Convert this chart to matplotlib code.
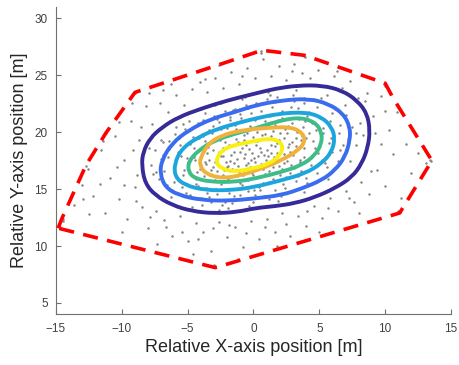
#! /usr/bin/env python
# -*- coding: utf-8 -*-

"""
scatter of relative positions with density contours and hull
"""

import matplotlib
matplotlib.use('Agg')
import matplotlib.pyplot as plt
from matplotlib.path import Path
from matplotlib.patches import PathPatch

plt.rcParams['font.family'] = ['Liberation Sans', 'DejaVu Sans']

# scatter points [m]
pts_x = [
    # core
    -3.6, -3.1, -2.8, -2.5, -2.2, -2.0, -1.7, -1.5, -1.3, -1.1, -0.9, -0.7, -0.5, -0.3, -0.1,
    0.1, 0.3, 0.5, 0.7, 0.9, 1.1, 1.3, 1.5, 1.7, 1.9, 2.1, 2.4, 2.7, 3.0, 3.3, 3.6,
    -3.9, -3.3, -2.6, -1.9, -1.2, -0.6, 0.0, 0.6, 1.2, 1.8, 2.3, 2.9, 3.8, -3.4, -2.9,
    -2.3, -1.6, -0.8, -0.2, 0.4, 0.8, 1.4, 2.0, 2.6, 3.2, -1.0, 0.2, -2.1, 1.6, -4.3,
    4.2, -3.7, -0.4, 0.9, 2.2, -1.4, 3.5, -2.7, 1.0,
    -3.45, -2.95, -2.35, -1.85, -1.25, -0.75, -0.15, 0.35, 0.85, 1.35, 1.95, 2.55, 3.15,
    3.75, -3.15, -2.45, -1.65, -0.95, -0.35, 0.45, 1.05, 1.65, 2.35, 2.85, -4.05, -3.75,
    -1.05, 0.15, 1.45, 3.45, -2.05, 0.65, -1.45, 2.05, -0.55, 1.75, -2.65, 0.05, -1.75,
    2.65, -3.05, 1.25, -0.25, 3.95, -4.55, 4.45, -2.25, 0.95, -1.15, 2.75,
    -5.35, -4.85, -4.35, -3.85, -3.25, -2.85, -2.15, -1.95, -1.35, -0.85, -0.45, 0.25,
    0.75, 1.45, 1.85, 2.45, 2.95, 3.55, 4.05, 4.65, 5.25, 5.75, -5.05, -4.45, -3.55,
    -2.55, -1.75, -0.65, 0.35, 1.15, 2.15, 3.05, 3.85, 4.75, -4.15, -3.05, -1.85, -0.95,
    0.55, 1.55, 2.55, 3.65, -2.35, -1.25, -0.05, 1.35, 2.35, 3.25, -3.65, -0.75,
    # middle
    -7.8, -7.5, -7.2, -7.0, -6.8, -6.5, -6.2, -6.0, -5.8, -5.6, -5.4, -5.2, -5.0, -4.8,
    -4.6, -4.4, -4.2, -4.0, -3.8, -3.6, -3.4, -3.2, -3.0, -2.8, -2.6, -2.4, -2.2, -2.0,
    -1.8, -1.6, -1.4, -1.2, -1.0, -0.8, -0.6, -0.4, -0.2, 0.0, 0.2, 0.4, 0.6, 0.8, 1.0,
    1.2, 1.4, 1.6, 1.8, 2.0, 2.2, 2.4, 2.6, 2.8, 3.0, 3.2, 3.4, 3.6, 3.8, 4.0, 4.2, 4.4,
    4.6, 4.8, 5.0, 5.2, 5.4, 5.6, 5.8, 6.0, 6.2, 6.4, 6.6, 6.8, 7.0, 7.2, 7.5, 7.8, 8.1,
    -6.6, -5.9, -4.9, -3.9, -2.9, -1.9, -0.9, 0.1, 1.1, 2.1, 3.1, 4.1, 5.1, 6.1, 7.1,
    -7.4, -6.4, -5.3, -4.5, -4.1, 4.5, 5.3, 5.9, 4.9, -5.5, -6.9, 6.5, 3.9, -3.5, 2.5,
    -1.5, 1.5, -2.5, 0.5,
    -7.65, -7.05, -6.45, -6.05, -5.65, -5.15, -4.75, -4.25, -3.65, -3.35, -2.75, -2.15,
    -1.55, -1.05, -0.45, 0.05, 0.55, 1.15, 1.65, 2.25, 2.85, 3.35, 3.85, 4.35, 4.85, 5.45,
    5.95, 6.55, 7.25, 7.75, -6.85, -5.35, -3.95, -2.45, -0.65, 1.25, 3.25, 5.55, 6.95,
    -6.25, -4.65, -2.65, -0.35, 1.85, 3.85, 5.65, 7.35, -7.95, 8.35, -5.75,
    # outer
    -14.5, -13.6, -12.6, -12.2, -11.6, -11.3, -10.9, -10.5, -10.2, -9.8, -9.6, -9.3, -9.0,
    -8.7, -8.5, -8.2, -8.0, -7.7, -7.4, -7.1, -6.8, -6.5, -6.2, -5.9, -5.6, -5.3, -5.0,
    -4.7, -4.4, -4.1, -3.8, -3.5, -3.2, -2.9, -2.6, -2.3, -2.0, -1.7, -1.4, -1.1, -0.8,
    -0.5, -0.2, 0.1, 0.4, 0.7, 1.0, 1.3, 1.6, 1.9, 2.2, 2.5, 2.8, 3.1, 3.4, 3.7, 4.0,
    4.3, 4.6, 4.9, 5.2, 5.5, 5.8, 6.1, 6.4, 6.7, 7.0, 7.3, 7.6, 7.9, 8.2, 8.5, 8.8, 9.1,
    9.4, 9.7, 10.0, 10.3, 10.6, 10.9, 11.2, 11.6, 12.0, 12.5, 13.1, -13.0, -11.4, -10.2,
    -9.2, -7.9, -6.3, -12.5, -10.0, -7.3, -4.6, -3.0, 0.6, 3.9, 10.0, 13.4, 11.0, -14.7,
    8.0, 5.0, 1.8, -1.2,
    -9.85, -9.15, -8.85, -8.55, -8.95, -7.85, -6.65, -5.45, -4.25, -3.05, -1.85, -0.55,
    0.85, 2.45, 4.05, 5.65, 7.25, 8.95, 9.65, 9.25, 8.65, 6.35, 2.95, -0.85, -3.65, -6.85,
    -10.35, -11.65, -12.95, 9.95,
    # hull corners
    -14.5, -12.7, -11.2, -9.0, -2.6, 0.6, 3.8, 9.9, 13.5, 11.1, -2.9,
]
pts_y = [
    # core
    17.2, 18.4, 16.6, 17.9, 19.1, 16.9, 18.0, 17.3, 19.4, 16.5, 18.6, 17.7, 19.9, 16.9, 18.2,
    17.4, 19.2, 18.6, 16.8, 19.8, 17.9, 18.9, 20.1, 17.6, 19.3, 18.4, 20.3, 19.0, 18.0, 20.0, 19.3,
    18.0, 16.2, 19.6, 15.9, 17.0, 18.9, 19.6, 17.2, 16.6, 18.2, 17.3, 20.8, 18.6, 17.6, 15.8,
    18.6, 19.8, 16.2, 17.6, 20.4, 18.0, 17.2, 19.9, 18.7, 19.5, 18.3, 18.9, 17.4, 18.8, 16.5,
    19.9, 19.2, 15.8, 21.0, 16.8, 20.6, 17.6, 17.1, 19.4,
    18.7, 17.35, 16.25, 18.85, 17.65, 19.35, 16.45, 17.95, 16.35, 19.65, 17.05, 19.95, 18.35,
    20.45, 19.95, 15.45, 16.75, 20.15, 18.55, 16.05, 18.45, 20.65, 18.05, 17.15, 17.15, 16.15,
    15.55, 21.05, 15.85, 21.15, 20.35, 19.75, 18.25, 16.25, 17.15, 19.05, 18.25, 17.75, 17.45,
    20.55, 16.95, 21.45, 20.55, 19.45, 17.85, 20.85, 16.65, 17.55, 19.15, 18.25,
    16.25, 18.95, 15.45, 19.65, 16.65, 15.05, 19.85, 17.05, 20.25, 15.35, 17.25, 20.05,
    15.55, 16.95, 21.05, 15.95, 19.15, 17.35, 21.45, 18.65, 20.35, 19.05, 17.75, 17.55, 18.15,
    19.35, 21.05, 18.05, 16.75, 20.75, 21.25, 16.85, 17.85, 20.15, 19.45, 20.55, 14.65, 21.25,
    18.25, 17.85, 17.45, 19.65, 17.95, 16.15, 16.25, 18.15, 19.45, 18.75, 17.35, 19.75,
    # middle
    17.1, 18.4, 15.9, 19.3, 16.6, 17.8, 14.9, 19.8, 16.1, 18.9, 15.2, 20.3, 17.4, 14.5,
    19.6, 15.9, 20.8, 14.2, 21.1, 15.1, 20.2, 13.9, 21.4, 14.6, 20.9, 13.6, 21.9, 14.9,
    21.3, 13.8, 22.0, 15.0, 21.6, 14.1, 22.4, 14.8, 21.7, 13.9, 22.6, 15.2, 21.9, 14.4, 22.9,
    15.6, 22.2, 14.9, 23.1, 15.8, 21.9, 15.1, 22.8, 16.4, 23.3, 15.7, 22.1, 16.6, 23.0, 16.0, 21.8, 17.1,
    22.9, 16.4, 21.4, 17.6, 22.6, 16.9, 21.0, 18.3, 22.0, 17.5, 20.6, 18.9, 21.5, 19.4, 20.5, 19.9, 20.8,
    15.4, 20.5, 21.0, 13.6, 22.4, 13.3, 22.9, 14.5, 23.5, 14.4, 22.7, 15.5, 23.0, 16.8, 18.4,
    16.5, 19.2, 16.7, 18.6, 16.8, 19.2, 19.9, 19.5, 18.2, 17.9, 18.0, 19.9, 21.0, 14.7, 16.1,
    14.4, 21.5, 20.3, 14.9,
    16.35, 17.65, 18.55, 15.65, 19.45, 14.65, 20.25, 15.25, 21.65, 14.35, 21.15, 13.85,
    21.95, 14.45, 22.15, 14.95, 22.45, 14.15, 22.65, 15.45, 22.25, 16.15, 22.55, 16.75, 22.25, 17.25,
    21.65, 18.45, 20.15, 18.85, 19.15, 20.75, 22.05, 22.55, 23.05, 23.25, 23.75, 23.25, 22.35,
    14.35, 13.45, 13.15, 13.55, 13.95, 14.75, 15.85, 17.45, 18.65, 19.75, 18.25,
    # outer
    12.2, 13.6, 16.8, 14.4, 18.4, 12.9, 16.0, 19.7, 14.1, 17.6, 12.4, 21.0, 15.2,
    19.3, 13.4, 22.3, 11.6, 20.7, 13.1, 22.6, 12.3, 21.8, 10.9, 23.3, 12.6, 22.4, 10.4,
    23.8, 12.0, 24.4, 11.2, 23.5, 9.6, 24.8, 12.1, 23.9, 10.8, 25.3, 11.7, 24.2, 9.9,
    25.6, 12.2, 24.8, 10.6, 26.4, 12.4, 24.9, 11.2, 25.8, 12.9, 24.6, 10.9, 26.0, 12.6, 25.2, 11.8,
    24.8, 13.5, 25.5, 12.5, 24.1, 14.2, 24.9, 13.1, 23.9, 14.8, 24.5, 13.9, 23.0, 15.6, 22.7, 14.6, 21.4,
    16.7, 23.2, 15.3, 20.2, 18.1, 21.8, 14.2, 19.0, 16.4, 18.2, 17.3, 15.4, 19.2, 20.9,
    22.6, 23.4, 24.2, 12.8, 11.2, 10.2, 9.3, 8.3, 27.0, 26.6, 24.1, 17.6, 13.1, 11.7,
    12.9, 11.2, 10.0, 8.9,
    15.35, 18.45, 16.25, 20.45, 13.95, 12.55, 11.65, 11.25, 10.65, 11.55, 11.85, 11.15,
    11.65, 11.95, 13.05, 13.35, 14.25, 16.55, 18.95, 19.95, 23.45, 25.35, 25.35, 24.95, 24.65, 23.75,
    16.95, 15.45, 14.15, 21.85,
    # hull corners
    12.4, 17.0, 19.9, 23.4, 25.9, 27.1, 26.7, 24.2, 17.5, 13.0, 8.2,
]

# boundary polygon (dashed red)
hull_x = [-14.84, -14.54, -12.72, -11.2, -9.0, -2.54, 0.65, 3.9, 10.0, 10.6, 13.55, 11.1, -2.9, -14.84]
hull_y = [11.57, 12.45, 17.1, 19.95, 23.5, 25.96, 27.2, 26.75, 24.3, 23.0, 17.5, 12.9, 8.1, 11.57]

# density contours, outer to inner (closed outlines)
c1_x = [-8.49, -8.39, -7.86, -6.95, -5.73, -3.91, -1.94, -0.42, 0.49, 1.63, 3.38, 5.20, 6.72,
        7.86, 8.62, 8.85, 8.69, 8.24, 7.48, 6.19, 4.67, 3.15, 1.63, 0.11, -1.18, -2.92,
        -4.67, -6.19, -7.48, -8.24]
c1_y = [17.10, 18.24, 19.47, 20.43, 21.31, 22.10, 22.80, 23.24, 23.50, 23.82, 24.11, 24.11, 23.67,
        22.80, 21.66, 20.17, 18.68, 17.27, 16.05, 15.08, 14.29, 13.76, 13.50, 13.33, 13.00, 12.86,
        13.06, 13.59, 14.47, 15.52]
c2_x = [-7.10, -6.97, -6.21, -4.95, -3.17, -1.40, 0.11, 2.14, 4.16, 5.68, 6.82, 7.33, 7.33,
        6.95, 6.19, 5.18, 3.66, 2.14, 0.11, -1.91, -3.93, -5.71, -6.72]
c2_y = [16.37, 17.54, 19.00, 20.17, 21.19, 21.77, 22.36, 22.80, 22.95, 22.51, 21.63, 20.46, 19.29,
        17.82, 16.66, 15.78, 15.05, 14.47, 14.18, 13.97, 14.03, 14.47, 15.19]
c3_x = [-6.01, -5.45, -4.19, -2.67, -0.90, 0.11, 1.88, 3.91, 5.18, 5.94, 6.19, 5.94, 5.18,
        3.91, 2.14, 0.11, -1.66, -3.68, -5.20, -5.96]
c3_y = [17.25, 18.56, 19.58, 20.32, 20.90, 21.19, 21.63, 21.77, 21.33, 20.46, 19.44, 18.26, 17.25,
        16.37, 15.78, 15.19, 14.90, 14.90, 15.34, 16.07]
c4_x = [-4.95, -4.19, -2.92, -1.40, 0.11, 1.63, 3.40, 4.67, 5.18, 5.18, 4.67, 3.66, 2.14,
        0.11, -1.40, -3.17, -4.44, -4.95]
c4_y = [17.39, 18.41, 19.29, 19.88, 20.32, 20.90, 21.33, 20.90, 20.02, 19.00, 17.97, 17.10, 16.51,
        15.93, 15.63, 15.63, 15.93, 16.51]
c5_x = [-4.06, -3.43, -2.41, -0.90, 1.12, 2.90, 3.78, 3.91, 3.40, 2.14, 0.62, -0.90, -2.41,
        -3.68, -4.06]
c5_y = [17.68, 19.00, 19.73, 20.17, 20.40, 20.46, 19.88, 19.14, 18.41, 17.54, 16.81, 16.22, 15.93,
        16.37, 17.10]
c6_x = [-2.79, -2.41, -1.53, -0.27, 1.00, 1.88, 2.26, 2.01, 1.25, -0.02, -1.53, -2.41, -2.79]
c6_y = [17.68, 18.41, 18.85, 19.14, 19.44, 19.29, 18.70, 17.97, 17.25, 16.81, 16.51, 16.81, 17.25]
contour_colors = ['#352a98', '#3a6cf0', '#1ca6de', '#3dbd8a', '#f0b23a', '#f8f010']


def smooth_ring(xs, ys):
    # closed quadratic bezier: traced points are the control points,
    # segment joins sit halfway between them
    n = len(xs)
    mids = [((xs[i] + xs[(i + 1) % n]) / 2, (ys[i] + ys[(i + 1) % n]) / 2) for i in range(n)]
    verts = [mids[-1]]
    codes = [Path.MOVETO]
    for i in range(n):
        verts += [(xs[i], ys[i]), mids[i]]
        codes += [Path.CURVE3, Path.CURVE3]
    return Path(verts, codes)


def main():
    fig = plt.figure(figsize=(4.6, 3.65), dpi=100)
    ax = fig.add_axes([56 / 460, 1 - 314.3 / 365, 395 / 460, 307.3 / 365])

    ax.scatter(pts_x, pts_y, s=3.2, c='#858585', linewidths=0, zorder=1)

    rings = [(c1_x, c1_y), (c2_x, c2_y), (c3_x, c3_y),
             (c4_x, c4_y), (c5_x, c5_y), (c6_x, c6_y)]
    for (cx, cy), col in zip(rings, contour_colors):
        ax.add_patch(PathPatch(smooth_ring(cx, cy), fill=False, edgecolor=col,
                               linewidth=2.8, zorder=2))

    ax.plot(hull_x, hull_y, color='red', linewidth=2.6, dashes=[4.2, 2.6], zorder=3)

    ax.set_xlim(-15, 15)
    ax.set_ylim(4, 31)
    ax.set_xticks([-15, -10, -5, 0, 5, 10, 15])
    ax.set_yticks([5, 10, 15, 20, 25, 30])

    for side in ['top', 'right']:
        ax.spines[side].set_visible(False)
    for side in ['left', 'bottom']:
        ax.spines[side].set_color('#707070')
        ax.spines[side].set_linewidth(0.8)
    ax.tick_params(direction='in', length=3.5, width=0.8, color='#707070',
                   labelcolor='#404040', labelsize=8.5, pad=6)

    ax.set_xlabel('Relative X-axis position [m]', fontsize=13, color='#262626')
    ax.set_ylabel('Relative Y-axis position [m]', fontsize=13, color='#262626')
    ax.xaxis.set_label_coords(0.5, -0.08)
    ax.yaxis.set_label_coords(-0.07, 0.5)

    fig.savefig('out.png', dpi=100)


if __name__ == '__main__':
    main()
